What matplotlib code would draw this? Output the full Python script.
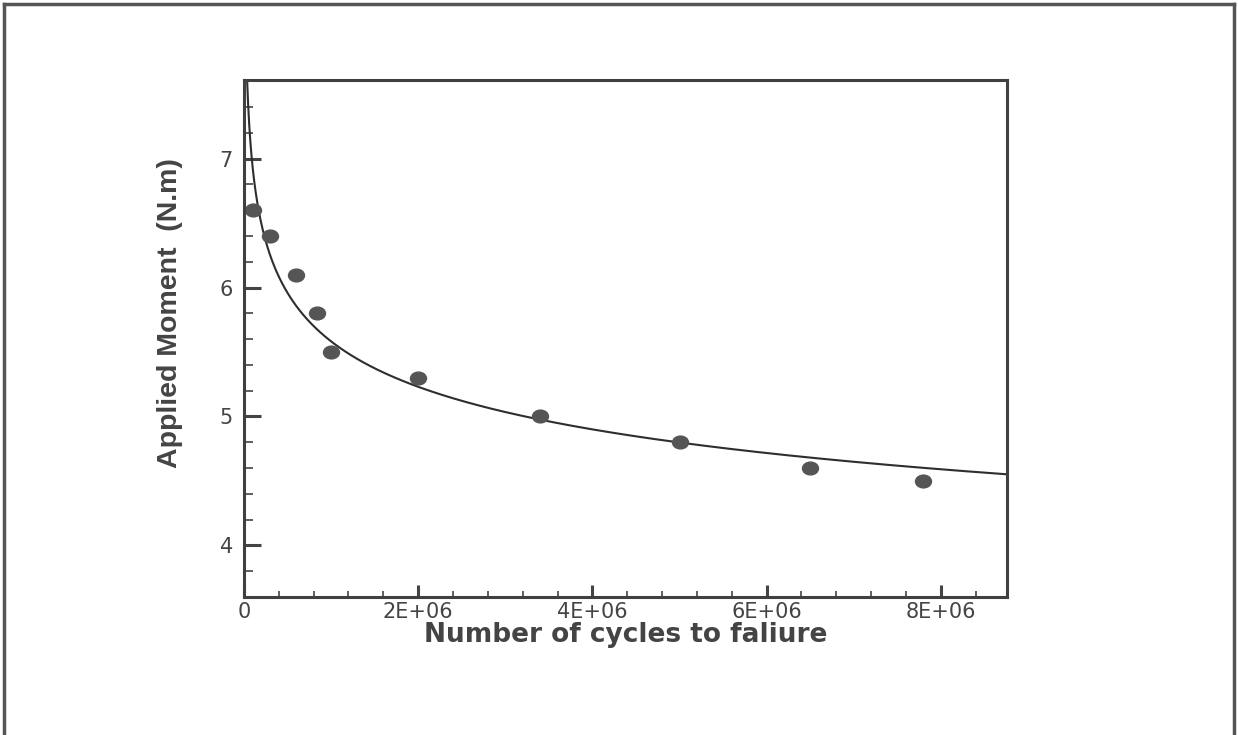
import numpy as np
import matplotlib

matplotlib.use("Agg")
import matplotlib.pyplot as plt
from matplotlib.lines import Line2D
from matplotlib.path import Path
from matplotlib.ticker import FixedLocator, MultipleLocator, FuncFormatter

# fatigue test points
cycles = [0.1e6, 0.3e6, 0.6e6, 0.84e6, 1.0e6, 2.0e6, 3.4e6, 5.0e6, 6.5e6, 7.8e6]
moment = [6.6, 6.4, 6.1, 5.8, 5.5, 5.3, 5.0, 4.8, 4.6, 4.5]
x_ticks = [0, 2e6, 4e6, 6e6, 8e6]
x_tick_labels = ["0", "2E+06", "4E+06", "6E+06", "8E+06"]
y_ticks = [4, 5, 6, 7]

plt.rcParams["font.family"] = ["DejaVu Sans"]

fig = plt.figure(figsize=(12.38, 7.35), dpi=100)
ax = fig.add_axes([0.197, 0.188, 0.6165, 0.703])

# power-law trend line fitted to the points (as in the original)
b, log_a = np.polyfit(np.log(cycles), np.log(moment), 1)
n_fit = np.geomspace(5e3, 8.76e6, 400)
ax.plot(n_fit, np.exp(log_a) * n_fit ** b, color="#2e2e2e", linewidth=1.5)

# the scan is a little stretched sideways, so the dots are slightly oval
circ = Path.unit_circle()
oval = Path(circ.vertices * [1.25, 1.0], circ.codes)
ax.plot(cycles, moment, linestyle="none", marker=oval, markersize=11.5,
        color="#555555", markeredgecolor="#555555")

ax.set_xlim(0, 8.76e6)
ax.set_ylim(3.6, 7.61)

ax.xaxis.set_major_locator(FixedLocator(x_ticks))
ax.xaxis.set_major_formatter(FuncFormatter(lambda v, p: x_tick_labels[x_ticks.index(v)] if v in x_ticks else ""))
ax.xaxis.set_minor_locator(MultipleLocator(4e5))
ax.yaxis.set_major_locator(FixedLocator(y_ticks))
ax.yaxis.set_minor_locator(MultipleLocator(0.2))

ax.tick_params(axis="both", which="both", direction="in", colors="#444444",
               labelsize=15, top=False, right=False)
ax.tick_params(axis="x", which="major", length=9, width=2.2, pad=4)
ax.tick_params(axis="x", which="minor", length=4.5, width=1.2)
ax.tick_params(axis="y", which="major", length=12, width=2.2, pad=8)
ax.tick_params(axis="y", which="minor", length=6.5, width=1.2)

for s in ax.spines.values():
    s.set_color("#404040")
    s.set_linewidth(2.2)

ax.set_xlabel("Number of cycles to faliure", fontsize=19, fontweight="bold",
              color="#444444", labelpad=0)
ax.set_ylabel("Applied Moment  (N.m)", fontsize=20.5, fontweight="bold",
              color="#444444", family=["Liberation Sans", "DejaVu Sans"])
ax.yaxis.set_label_coords(-0.08, 0.549)

# scanned page frame (top, left, right edges)
frame = dict(color="#555555", linewidth=2.5, transform=fig.transFigure)
fig.add_artist(Line2D([0.003, 0.997], [0.995, 0.995], **frame))
fig.add_artist(Line2D([0.003, 0.003], [0.0, 0.995], **frame))
fig.add_artist(Line2D([0.997, 0.997], [0.0, 0.995], **frame))

fig.savefig("out.png", dpi=100)
